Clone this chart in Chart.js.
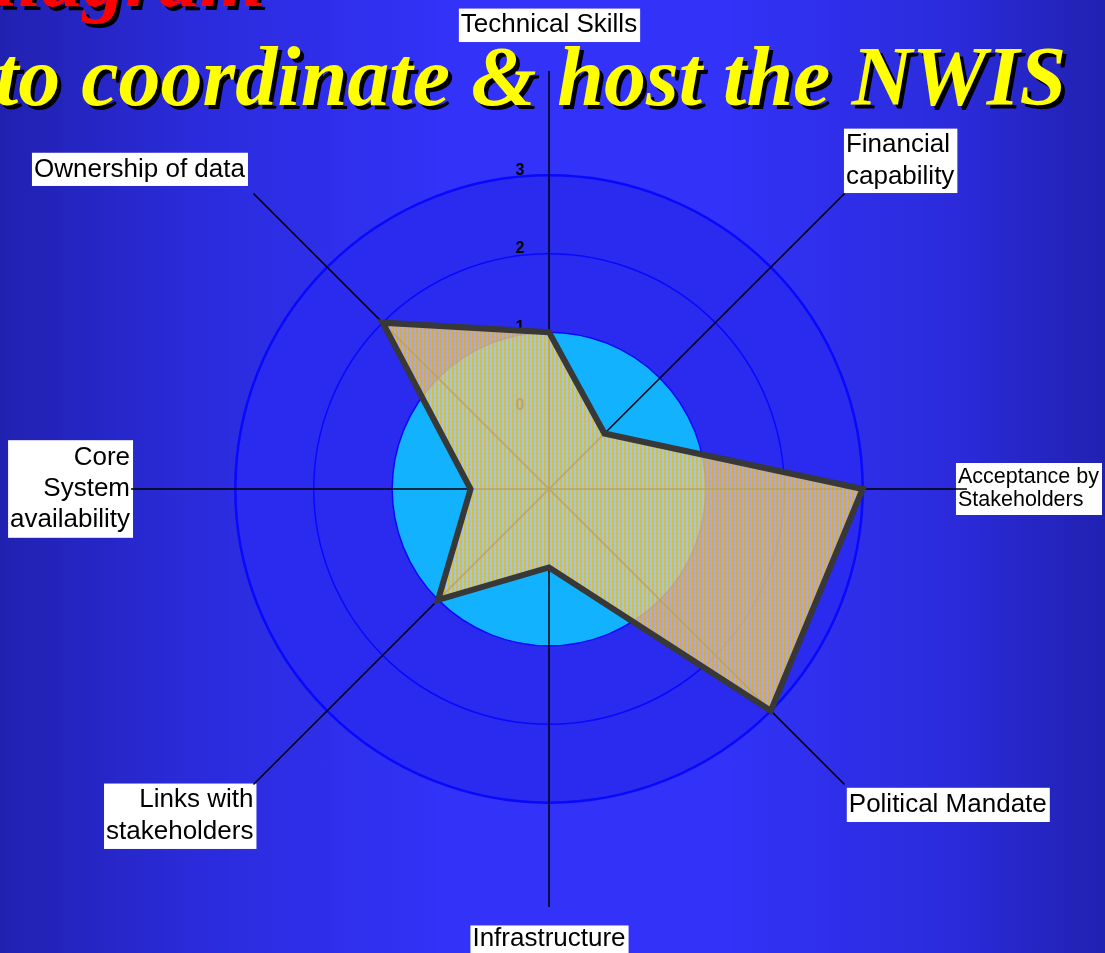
<!DOCTYPE html>
<html>
<head>
<meta charset="utf-8">
<script src="https://cdn.jsdelivr.net/npm/chart.js@4.4.1/dist/chart.umd.min.js"></script>
<style>
  html, body { margin: 0; padding: 0; }
  body {
    width: 1105px; height: 953px; overflow: hidden; position: relative;
    background: linear-gradient(to right, #2121b0 0%, #2b2bdc 18%, #3232f8 40%, #3232f8 66%, #2b2bdc 86%, #2121b2 100%);
  }
  #c { position: absolute; left: 0; top: 0; }
  .title {
    position: absolute; white-space: nowrap; line-height: 1;
    font-family: "Liberation Serif", "DejaVu Serif", serif;
    font-weight: bold; font-style: italic; font-size: 84px;
    text-shadow: 4px 4px 0 #000;
    pointer-events: none;
  }
  #red { color: #ff0000; left: -24px; top: -64px; }
  #yellow { color: #ffff00; left: -5px; top: 35px; }
</style>
</head>
<body>
<canvas id="c" width="1105" height="953"></canvas>
<div class="title" id="red">diagram</div>
<div class="title" id="yellow">to coordinate &amp; host the NWIS</div>
<script>
// axes, clockwise from the top
var categories = [
	'Technical Skills',
	['Financial', 'capability'],
	['Acceptance by', 'Stakeholders'],
	'Political Mandate',
	'Infrastructure',
	['Links with', 'stakeholders'],
	['Core', 'System', 'availability'],
	'Ownership of data'
];
var scores = [1, 0, 3, 3, 0, 1, 0, 2];
var tickValues = [0, 1, 2, 3];

// per label tweaks (font size, line height, distance from spoke end, white box)
var labelSizes = [26, 26, 21.5, 26, 26, 26, 26, 26];
var labelLines = [0.71, 1.2, 1.07, 1.2, 0.04, 1.2, 1.2, 1.2];
var labelPads = [36.5, 2, -9, 6, 31, 0, 1, 12];
var labelBoxes = [
	{ left: 2, right: 3, top: 7.5, bottom: 7.5 },
	{ left: 2, right: 3, top: 1, bottom: 1 },
	{ left: 2, right: 3, top: 3, bottom: 3 },
	{ left: 2, right: 3, top: 1, bottom: 2 },
	{ left: 2, right: 3, top: 12.5, bottom: 14 },
	{ left: 2, right: 3, top: 1, bottom: 2 },
	{ left: 2, right: 3, top: 2, bottom: 2 },
	{ left: 2, right: 3, top: 1, bottom: 1 }
];

var ctx = document.getElementById('c');

// yellow / lavender hatch like the original fill
let makeHatch = function() {
	var tile = document.createElement('canvas');
	tile.width = 4;
	tile.height = 4;
	var t = tile.getContext('2d');
	t.fillStyle = 'rgba(205, 198, 228, 0.8)';
	t.fillRect(2, 0, 2, 4);
	t.fillStyle = 'rgba(245, 196, 20, 0.85)';
	t.fillRect(0, 0, 2, 4);
	t.clearRect(2, 3, 2, 1);
	t.fillStyle = 'rgba(222, 208, 165, 0.8)';
	t.fillRect(2, 3, 2, 1);
	return ctx.getContext('2d').createPattern(tile, 'repeat');
};

/*
* Filled discs behind the grid, and the tick numbers
* left of the vertical spoke.
*/
var ringPlugin = {
	id: 'rings',
	beforeDraw: function(chart) {
		var r = chart.scales.r;
		var c = chart.ctx;
		c.save();
		c.fillStyle = '#2b2bf0';
		c.beginPath();
		c.arc(r.xCenter, r.yCenter, r.getDistanceFromCenterForValue(3), 0, Math.PI * 2);
		c.fill();
		c.fillStyle = '#12b2ff';
		c.beginPath();
		c.arc(r.xCenter, r.yCenter, r.getDistanceFromCenterForValue(1), 0, Math.PI * 2);
		c.fill();
		c.restore();
	},
	beforeDatasetsDraw: function(chart) {
		var r = chart.scales.r;
		var c = chart.ctx;
		c.save();
		c.fillStyle = '#000';
		c.font = 'bold 16px "Liberation Sans", Arial, sans-serif';
		c.textAlign = 'center';
		c.textBaseline = 'middle';
		for (var i = 0; i < tickValues.length; i++) {
			var p = r.getPointPositionForValue(0, tickValues[i]);
			c.fillText(String(tickValues[i]), p.x - 29, p.y - 5);
		}
		c.restore();
	}
};

new Chart(ctx, {
	type: 'radar',
	data: {
		labels: categories,
		datasets: [{
			label: 'Score',
			data: scores,
			backgroundColor: makeHatch(),
			borderColor: '#383838',
			borderWidth: 6,
			borderJoinStyle: 'miter',
			pointRadius: 0,
			pointHoverRadius: 0,
			fill: 'start'
		}]
	},
	plugins: [ringPlugin],
	options: {
		responsive: false,
		animation: false,
		devicePixelRatio: 1,
		layout: {
			padding: { left: 6, top: 4, right: 0, bottom: 0 }
		},
		plugins: {
			legend: { display: false },
			tooltip: { enabled: false }
		},
		scales: {
			r: {
				min: -1,
				max: 4.33,
				ticks: { display: false, stepSize: 1 },
				grid: {
					circular: true,
					color: function(c) {
						var v = c.tick ? c.tick.value : 0;
						if (v < 0 || v > 3) return 'rgba(0,0,0,0)';
						if (v === 0) return '#7a7ae6';
						return '#0808ff';
					},
					lineWidth: function(c) {
						var v = c.tick ? c.tick.value : 0;
						if (v === 3) return 2.5;
						if (v === 0) return 1.2;
						return 1.5;
					}
				},
				border: {
					dash: function(c) {
						return (c.tick && c.tick.value === 0) ? [2, 2] : [];
					}
				},
				angleLines: {
					color: '#000',
					lineWidth: 1.5
				},
				pointLabels: {
					color: '#000',
					backdropColor: '#fff',
					backdropPadding: function(c) { return labelBoxes[c.index]; },
					padding: function(c) { return labelPads[c.index]; },
					font: function(c) {
						return {
							family: '"Liberation Sans", Arial, sans-serif',
							size: labelSizes[c.index],
							lineHeight: labelLines[c.index]
						};
					}
				}
			}
		}
	}
});
</script>
</body>
</html>
